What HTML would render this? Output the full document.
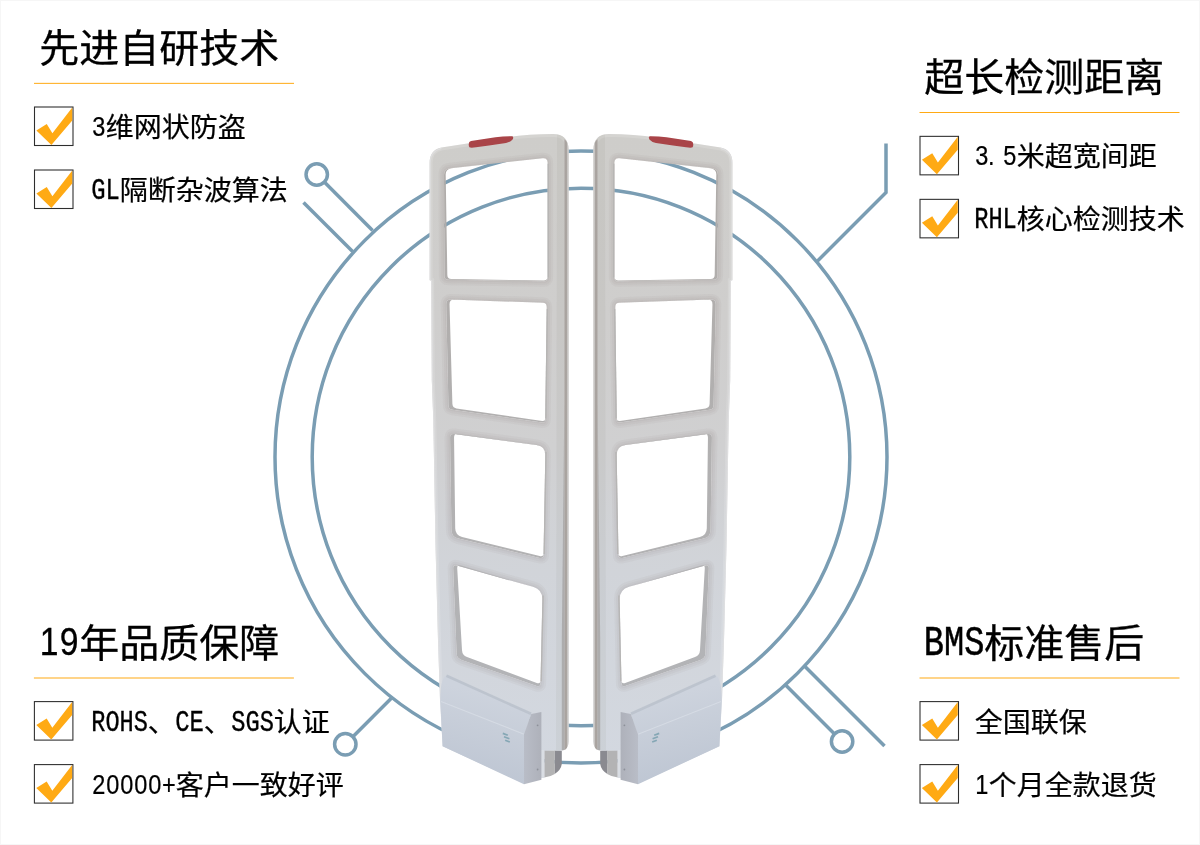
<!DOCTYPE html>
<html lang="zh-CN">
<head>
<meta charset="utf-8">
<title>EAS</title>
<style>
html,body{margin:0;padding:0;background:#fff;}
body{width:1200px;height:845px;overflow:hidden;position:relative;}
svg{display:block;position:absolute;left:0;top:0;will-change:transform;}
.h,.t{fill:#000;stroke:#000;}
.h .c{stroke-width:0.3px;}
.t .c{stroke-width:0.22px;}
.c{font-family:"Liberation Sans","Noto Sans CJK SC",sans-serif;font-weight:400;}
.l{font-family:"Liberation Mono","Liberation Sans",monospace;}
.d{font-family:"Liberation Sans",sans-serif;}
</style>
</head>
<body>
<svg width="1200" height="845" viewBox="0 0 1200 845">

<rect x="0" y="0" width="1200" height="845" fill="#f6f6f6"/>
<rect x="1" y="1" width="1198" height="843" fill="#ffffff"/>
<g fill="none" stroke="#7a9db3" stroke-width="3.5">
<circle cx="581" cy="457" r="306"/>
<circle cx="581" cy="457" r="268.8"/>
<circle cx="316.75" cy="174.5" r="10.7"/>
<path d="M324.32 182.07 L372.6 230.4"/>
<path d="M303.5 202.5 L352.6 251.6"/>
<path d="M886 143.5 L886 192.5 L817 261.5" stroke-linejoin="miter"/>
<circle cx="345.3" cy="744.3" r="10.7"/>
<path d="M352.87 736.73 L391.6 698"/>
<circle cx="842.1" cy="741.5" r="10.7"/>
<path d="M834.53 733.93 L785.6 685"/>
<path d="M805 666.5 L884.5 746"/>
</g>
<defs>
<linearGradient id="gBody" x1="0" y1="134" x2="0" y2="760" gradientUnits="userSpaceOnUse">
<stop offset="0" stop-color="#cecdca"/>
<stop offset="0.3" stop-color="#cfcecd"/>
<stop offset="0.5" stop-color="#d0d0d1"/>
<stop offset="0.7" stop-color="#d1d4d9"/>
<stop offset="1" stop-color="#d3d8e0"/>
</linearGradient>
<linearGradient id="gShade" x1="0" y1="160" x2="0" y2="690" gradientUnits="userSpaceOnUse">
<stop offset="0" stop-color="#b0aca9"/>
<stop offset="1" stop-color="#b3b4b7"/>
</linearGradient>
<linearGradient id="gEdge" x1="564.2" y1="0" x2="568.6" y2="0" gradientUnits="userSpaceOnUse">
<stop offset="0" stop-color="#b9b5b2"/>
<stop offset="0.25" stop-color="#a9a39f"/>
<stop offset="0.6" stop-color="#aaa5a1"/>
<stop offset="0.7" stop-color="#c6c3c1"/>
<stop offset="1" stop-color="#cfcdcb"/>
</linearGradient>
<linearGradient id="gPostHi" x1="550" y1="0" x2="561" y2="0" gradientUnits="userSpaceOnUse">
<stop offset="0" stop-color="#ffffff" stop-opacity="0"/>
<stop offset="0.5" stop-color="#ffffff" stop-opacity="0.16"/>
<stop offset="1" stop-color="#ffffff" stop-opacity="0"/>
</linearGradient>
<linearGradient id="gBox" x1="470" y1="690" x2="450" y2="770" gradientUnits="userSpaceOnUse">
<stop offset="0" stop-color="#cdd3dd"/>
<stop offset="1" stop-color="#bec6d3"/>
</linearGradient>
<linearGradient id="gSide" x1="524" y1="0" x2="541.4" y2="0" gradientUnits="userSpaceOnUse">
<stop offset="0" stop-color="#b9bdc7"/>
<stop offset="1" stop-color="#aeb1ba"/>
</linearGradient>
</defs>
<g id="panelL">
<path fill="url(#gBody)" fill-rule="evenodd" d="M429.6 163 Q429.6 150 441.5 147.6 L506 137.4 Q528 134.2 553 134 Q568.6 134 568.6 150 L568.6 741 Q568.6 750.5 560 750.8 L544 751 L544 778 L540 778 L540 713 L531.2 714.5 L525 734.2 L525 784 L442.6 746.2 L440 700 L438 640 L435.5 545 L433.3 420 L431.8 380 L431.2 280.6 L429.6 280 L429.6 163 Z M444.02 174.80 Q444.00 168.80 449.97 168.17 L542.63 158.33 Q547.60 157.80 547.60 162.80 L547.60 277.40 Q547.60 281.40 543.60 281.34 L448.40 279.86 Q444.40 279.80 444.39 275.80 Z M446.21 304.40 Q446.10 299.40 451.10 299.58 L542.70 302.86 Q546.70 303.00 546.65 307.00 L545.24 419.90 Q545.20 422.90 542.23 422.48 L452.46 409.76 Q448.50 409.20 448.41 405.20 Z M450.06 437.50 Q450.00 433.50 453.97 434.02 L536.48 444.92 Q545.40 446.10 545.25 455.10 L543.57 554.80 Q543.50 558.80 539.61 557.88 L458.31 538.61 Q451.50 537.00 451.40 530.00 Z M453.16 568.50 Q453.00 564.50 456.85 565.58 L532.87 586.81 Q542.50 589.50 542.30 599.50 L540.58 683.30 Q540.50 687.30 536.72 685.99 L461.52 659.94 Q456.80 658.30 456.60 653.30 Z"/>
<clipPath id="cBody"><path clip-rule="evenodd" d="M429.6 163 Q429.6 150 441.5 147.6 L506 137.4 Q528 134.2 553 134 Q568.6 134 568.6 150 L568.6 741 Q568.6 750.5 560 750.8 L544 751 L544 778 L540 778 L540 713 L531.2 714.5 L525 734.2 L525 784 L442.6 746.2 L440 700 L438 640 L435.5 545 L433.3 420 L431.8 380 L431.2 280.6 L429.6 280 L429.6 163 Z M444.02 174.80 Q444.00 168.80 449.97 168.17 L542.63 158.33 Q547.60 157.80 547.60 162.80 L547.60 277.40 Q547.60 281.40 543.60 281.34 L448.40 279.86 Q444.40 279.80 444.39 275.80 Z M446.21 304.40 Q446.10 299.40 451.10 299.58 L542.70 302.86 Q546.70 303.00 546.65 307.00 L545.24 419.90 Q545.20 422.90 542.23 422.48 L452.46 409.76 Q448.50 409.20 448.41 405.20 Z M450.06 437.50 Q450.00 433.50 453.97 434.02 L536.48 444.92 Q545.40 446.10 545.25 455.10 L543.57 554.80 Q543.50 558.80 539.61 557.88 L458.31 538.61 Q451.50 537.00 451.40 530.00 Z M453.16 568.50 Q453.00 564.50 456.85 565.58 L532.87 586.81 Q542.50 589.50 542.30 599.50 L540.58 683.30 Q540.50 687.30 536.72 685.99 L461.52 659.94 Q456.80 658.30 456.60 653.30 Z"/></clipPath>
<g clip-path="url(#cBody)">
<path d="M568.6 741 L568.6 150 Q568.6 134 553 134 Q528 134.2 506 137.4 L441.5 147.6 Q429.6 150 429.6 163 L429.6 280 L431.2 280.6 L431.8 380 L433.3 420 L435.5 545 L438 640 L440 700 L442.6 746.2" fill="none" stroke="#ffffff" stroke-opacity="0.14" stroke-width="6"/>
<path d="M444.02 174.80 Q444.00 168.80 449.97 168.17 L542.63 158.33 Q547.60 157.80 547.60 162.80 L547.60 277.40 Q547.60 281.40 543.60 281.34 L448.40 279.86 Q444.40 279.80 444.39 275.80 Z M446.21 304.40 Q446.10 299.40 451.10 299.58 L542.70 302.86 Q546.70 303.00 546.65 307.00 L545.24 419.90 Q545.20 422.90 542.23 422.48 L452.46 409.76 Q448.50 409.20 448.41 405.20 Z M450.06 437.50 Q450.00 433.50 453.97 434.02 L536.48 444.92 Q545.40 446.10 545.25 455.10 L543.57 554.80 Q543.50 558.80 539.61 557.88 L458.31 538.61 Q451.50 537.00 451.40 530.00 Z M453.16 568.50 Q453.00 564.50 456.85 565.58 L532.87 586.81 Q542.50 589.50 542.30 599.50 L540.58 683.30 Q540.50 687.30 536.72 685.99 L461.52 659.94 Q456.80 658.30 456.60 653.30 Z" fill="none" stroke="#6e6a66" stroke-opacity="0.05" stroke-width="11"/>
<path d="M444.02 174.80 Q444.00 168.80 449.97 168.17 L542.63 158.33 Q547.60 157.80 547.60 162.80 L547.60 277.40 Q547.60 281.40 543.60 281.34 L448.40 279.86 Q444.40 279.80 444.39 275.80 Z M446.21 304.40 Q446.10 299.40 451.10 299.58 L542.70 302.86 Q546.70 303.00 546.65 307.00 L545.24 419.90 Q545.20 422.90 542.23 422.48 L452.46 409.76 Q448.50 409.20 448.41 405.20 Z M450.06 437.50 Q450.00 433.50 453.97 434.02 L536.48 444.92 Q545.40 446.10 545.25 455.10 L543.57 554.80 Q543.50 558.80 539.61 557.88 L458.31 538.61 Q451.50 537.00 451.40 530.00 Z M453.16 568.50 Q453.00 564.50 456.85 565.58 L532.87 586.81 Q542.50 589.50 542.30 599.50 L540.58 683.30 Q540.50 687.30 536.72 685.99 L461.52 659.94 Q456.80 658.30 456.60 653.30 Z" fill="none" stroke="#6e6a66" stroke-opacity="0.05" stroke-width="7"/>
<path d="M444.02 174.80 Q444.00 168.80 449.97 168.17 L542.63 158.33 Q547.60 157.80 547.60 162.80 L547.60 277.40 Q547.60 281.40 543.60 281.34 L448.40 279.86 Q444.40 279.80 444.39 275.80 Z M446.21 304.40 Q446.10 299.40 451.10 299.58 L542.70 302.86 Q546.70 303.00 546.65 307.00 L545.24 419.90 Q545.20 422.90 542.23 422.48 L452.46 409.76 Q448.50 409.20 448.41 405.20 Z M450.06 437.50 Q450.00 433.50 453.97 434.02 L536.48 444.92 Q545.40 446.10 545.25 455.10 L543.57 554.80 Q543.50 558.80 539.61 557.88 L458.31 538.61 Q451.50 537.00 451.40 530.00 Z M453.16 568.50 Q453.00 564.50 456.85 565.58 L532.87 586.81 Q542.50 589.50 542.30 599.50 L540.58 683.30 Q540.50 687.30 536.72 685.99 L461.52 659.94 Q456.80 658.30 456.60 653.30 Z" fill="none" stroke="#6e6a66" stroke-opacity="0.05" stroke-width="3"/>
<path d="M557 130 L564.3 130 L564.3 750 L556 750 Z" fill="#5a5550" opacity="0.055"/>
</g>
<path fill="url(#gShade)" fill-rule="evenodd" d="M444.02 174.80 Q444.00 168.80 449.97 168.17 L542.63 158.33 Q547.60 157.80 547.60 162.80 L547.60 277.40 Q547.60 281.40 543.60 281.34 L448.40 279.86 Q444.40 279.80 444.39 275.80 Z M445.70 174.80 Q445.60 168.80 451.57 168.16 L542.63 158.34 Q547.60 157.80 547.60 162.80 L547.60 276.60 Q547.60 280.60 543.60 280.54 L451.40 279.06 Q447.40 279.00 447.33 275.00 Z"/>
<path fill="url(#gShade)" fill-rule="evenodd" d="M446.21 304.40 Q446.10 299.40 451.10 299.58 L542.70 302.86 Q546.70 303.00 546.65 307.00 L545.24 419.90 Q545.20 422.90 542.23 422.48 L452.46 409.76 Q448.50 409.20 448.41 405.20 Z M449.54 304.40 Q449.40 299.40 454.40 299.58 L542.70 302.85 Q546.70 303.00 546.65 307.00 L545.24 418.50 Q545.20 421.50 542.23 421.06 L456.46 408.38 Q452.50 407.80 452.39 403.80 Z"/>
<path fill="url(#gShade)" fill-rule="evenodd" d="M450.06 437.50 Q450.00 433.50 453.97 434.02 L536.48 444.92 Q545.40 446.10 545.25 455.10 L543.57 554.80 Q543.50 558.80 539.61 557.88 L458.31 538.61 Q451.50 537.00 451.40 530.00 Z M454.05 437.50 Q454.00 433.50 457.96 434.05 L536.48 444.87 Q545.40 446.10 545.25 455.10 L543.57 553.00 Q543.50 557.00 539.62 556.04 L462.10 536.88 Q455.30 535.20 455.21 528.20 Z"/>
<path fill="url(#gShade)" fill-rule="evenodd" d="M453.16 568.50 Q453.00 564.50 456.85 565.58 L532.87 586.81 Q542.50 589.50 542.30 599.50 L540.58 683.30 Q540.50 687.30 536.72 685.99 L461.52 659.94 Q456.80 658.30 456.60 653.30 Z M457.23 568.49 Q457.00 564.50 460.84 565.62 L532.90 586.69 Q542.50 589.50 542.29 599.50 L540.58 680.30 Q540.50 684.30 536.75 682.91 L466.99 657.04 Q462.30 655.30 462.01 650.31 Z"/>
<path d="M430.2 163 Q430.2 151 441.5 148.3 M430.2 163 L430.2 280 L431.8 280.6 L432.4 380 L433.9 420 L436.1 545 L438.6 640 L440.6 700" fill="none" stroke="#e0e0e1" stroke-width="1.2" opacity="0.8"/>
<path d="M564.2 139 Q568.6 142 568.6 150 L568.6 741 Q568.6 747 565.5 749.6 L564.2 750 Z" fill="url(#gEdge)"/>
<path d="M564.4 400 L564.4 750 L561.8 750.4 L561.8 640 Z" fill="#a5a4a4" opacity="0.8"/>
<path d="M548.25 163.80 L548.25 277.60" stroke="#b6b5b4" stroke-width="1.3" fill="none"/>
<path d="M547.35 309.00 L545.85 418.50" stroke="#b6b5b4" stroke-width="1.3" fill="none"/>
<path d="M546.05 452.10 L544.15 554.00" stroke="#b6b5b4" stroke-width="1.3" fill="none"/>
<path d="M543.15 595.50 L541.15 681.30" stroke="#b6b5b4" stroke-width="1.3" fill="none"/>
<path d="M544.2 750.8 L561.8 750.8 L561.8 764 Q561 770 554.6 774 L554.6 750.8 Z" fill="#8a8a90"/>
<path d="M544.2 750.8 L554.8 750.8 L554.8 774 Q550 777 544.2 777.5 Z" fill="#b3b3b4"/>
<rect x="541" y="750" width="3.4" height="28" fill="#d9dde3"/>
<path d="M446 675.5 L531.2 714 L524 734.2 L524 784.3 L442.6 746.2 L440.3 701 Q440 680 446 675.5 Z" fill="url(#gBox)"/>
<path d="M446.5 675.8 L531 713.8" stroke="#bac1cb" stroke-width="2.6" fill="none" opacity="0.85"/>
<path d="M441 701.5 L524 734.2" stroke="#d6dbe4" stroke-width="1.2" fill="none" opacity="0.9"/>
<path d="M531.2 714 L541.4 712 L541.4 779.7 L524 784.3 L524 734.2 Z" fill="url(#gSide)"/>
<circle cx="537.6" cy="725.3" r="0.9" fill="#8d9099"/><circle cx="537.6" cy="769.5" r="0.9" fill="#8d9099"/>
<path d="M502.8 733.4 l5 1.9 M504 736.8 l5.4 2 M505.2 740.2 l4.6 1.8" stroke="#6f99a8" stroke-width="1.7" fill="none" opacity="0.75"/>
<path d="M468.7 144.5 Q468.6 141.6 471 141 L484 139 L495.5 137.2 Q504 136.2 512.4 136.3 Q514 137.4 512.6 139.4 Q510.5 141.9 506 143 L489 145.6 L476 147.3 Q470.4 148 469.4 147.2 Q468.7 146.2 468.7 144.5 Z" fill="#a94448"/>
</g>
<use href="#panelL" transform="translate(1162,0) scale(-1,1)"/>

<text class="h" transform="translate(0,61.86) scale(1,0.955)"><tspan class="c" font-size="40.00" x="39.20 79.20 119.20 159.20 199.20 239.20" y="0">先进自研技术</tspan></text>
<rect x="34.0" y="82.85" width="260" height="1" fill="#ffaa14"/>
<g transform="translate(34.0,106.0)">
<rect x="0.5" y="1" width="38.5" height="38.5" fill="#fff" stroke="#2e2e2e" stroke-width="1.08"/>
<polygon points="2.4,24.4 12.75,17.9 18.4,27.25 38.25,1.5 38.25,14.5 17.4,39" fill="#ffaa14"/>
</g>
<text class="t" transform="translate(0,136.79) scale(1,0.975)"><tspan class="d" font-size="27.48" x="92.24" y="-1.29" textLength="13.11" lengthAdjust="spacingAndGlyphs" stroke-width="0.22">3</tspan><tspan class="c" font-size="28.00" x="105.80 133.80 161.80 189.80 217.80" y="0">维网状防盗</tspan></text>
<g transform="translate(34.0,169.0)">
<rect x="0.5" y="1" width="38.5" height="38.5" fill="#fff" stroke="#2e2e2e" stroke-width="1.08"/>
<polygon points="2.4,24.4 12.75,17.9 18.4,27.25 38.25,1.5 38.25,14.5 17.4,39" fill="#ffaa14"/>
</g>
<text class="t" transform="translate(0,199.79) scale(1,0.975)"><tspan class="l" font-size="30.61" x="91.30" y="-1.29" textLength="28.60" lengthAdjust="spacingAndGlyphs" stroke-width="0.39">GL</tspan><tspan class="c" font-size="28.00" x="119.80 147.80 175.80 203.80 231.80 259.80" y="0">隔断杂波算法</tspan></text>
<text class="h" transform="translate(0,91.36) scale(1,0.955)"><tspan class="c" font-size="40.00" x="924.30 964.30 1004.30 1044.30 1084.30 1124.30" y="0">超长检测距离</tspan></text>
<rect x="919.5" y="112.00" width="260" height="1" fill="#ffaa14"/>
<g transform="translate(919.5,135.35)">
<rect x="0.5" y="1" width="38.5" height="38.5" fill="#fff" stroke="#2e2e2e" stroke-width="1.08"/>
<polygon points="2.4,24.4 12.75,17.9 18.4,27.25 38.25,1.5 38.25,14.5 17.4,39" fill="#ffaa14"/>
</g>
<text class="t" transform="translate(0,166.29) scale(1,0.975)"><tspan class="d" font-size="27.48" x="975.14" y="-1.29" textLength="13.11" lengthAdjust="spacingAndGlyphs" stroke-width="0.22">3</tspan><tspan class="d" font-size="27.48" x="987.90" y="-1.29" textLength="6.56" lengthAdjust="spacingAndGlyphs" stroke-width="0.22">.</tspan><tspan class="d" font-size="27.48" x="1003.14" y="-1.29" textLength="13.11" lengthAdjust="spacingAndGlyphs" stroke-width="0.22">5</tspan><tspan class="c" font-size="28.00" x="1016.70 1044.70 1072.70 1100.70 1128.70" y="0">米超宽间距</tspan></text>
<g transform="translate(919.5,198.35)">
<rect x="0.5" y="1" width="38.5" height="38.5" fill="#fff" stroke="#2e2e2e" stroke-width="1.08"/>
<polygon points="2.4,24.4 12.75,17.9 18.4,27.25 38.25,1.5 38.25,14.5 17.4,39" fill="#ffaa14"/>
</g>
<text class="t" transform="translate(0,229.29) scale(1,0.975)"><tspan class="l" font-size="30.61" x="974.20" y="-1.29" textLength="42.60" lengthAdjust="spacingAndGlyphs" stroke-width="0.39">RHL</tspan><tspan class="c" font-size="28.00" x="1016.70 1044.70 1072.70 1100.70 1128.70 1156.70" y="0">核心检测技术</tspan></text>
<text class="h" transform="translate(0,656.86) scale(1,0.955)"><tspan class="d" font-size="40.08" x="39.84" y="-1.88" textLength="18.73" lengthAdjust="spacingAndGlyphs" stroke-width="0.32">1</tspan><tspan class="d" font-size="40.08" x="59.84" y="-1.88" textLength="18.73" lengthAdjust="spacingAndGlyphs" stroke-width="0.32">9</tspan><tspan class="c" font-size="40.00" x="79.20 119.20 159.20 199.20 239.20" y="0">年品质保障</tspan></text>
<rect x="33.9" y="677.50" width="260" height="1" fill="#ffaa14"/>
<g transform="translate(33.9,700.6)">
<rect x="0.5" y="1" width="38.5" height="38.5" fill="#fff" stroke="#2e2e2e" stroke-width="1.08"/>
<polygon points="2.4,24.4 12.75,17.9 18.4,27.25 38.25,1.5 38.25,14.5 17.4,39" fill="#ffaa14"/>
</g>
<text class="t" transform="translate(0,731.79) scale(1,0.975)"><tspan class="l" font-size="30.61" x="91.30" y="-1.29" textLength="56.60" lengthAdjust="spacingAndGlyphs" stroke-width="0.39">ROHS</tspan><tspan class="c" font-size="28.00" x="147.80" y="0">、</tspan><tspan class="l" font-size="30.61" x="175.30" y="-1.29" textLength="28.60" lengthAdjust="spacingAndGlyphs" stroke-width="0.39">CE</tspan><tspan class="c" font-size="28.00" x="203.80" y="0">、</tspan><tspan class="l" font-size="30.61" x="231.30" y="-1.29" textLength="42.60" lengthAdjust="spacingAndGlyphs" stroke-width="0.39">SGS</tspan><tspan class="c" font-size="28.00" x="273.80 301.80" y="0">认证</tspan></text>
<g transform="translate(33.9,763.6)">
<rect x="0.5" y="1" width="38.5" height="38.5" fill="#fff" stroke="#2e2e2e" stroke-width="1.08"/>
<polygon points="2.4,24.4 12.75,17.9 18.4,27.25 38.25,1.5 38.25,14.5 17.4,39" fill="#ffaa14"/>
</g>
<text class="t" transform="translate(0,794.79) scale(1,0.975)"><tspan class="d" font-size="27.48" x="92.24" y="-1.29" textLength="13.11" lengthAdjust="spacingAndGlyphs" stroke-width="0.22">2</tspan><tspan class="d" font-size="27.48" x="106.24" y="-1.29" textLength="13.11" lengthAdjust="spacingAndGlyphs" stroke-width="0.22">0</tspan><tspan class="d" font-size="27.48" x="120.24" y="-1.29" textLength="13.11" lengthAdjust="spacingAndGlyphs" stroke-width="0.22">0</tspan><tspan class="d" font-size="27.48" x="134.24" y="-1.29" textLength="13.11" lengthAdjust="spacingAndGlyphs" stroke-width="0.22">0</tspan><tspan class="d" font-size="27.48" x="148.24" y="-1.29" textLength="13.11" lengthAdjust="spacingAndGlyphs" stroke-width="0.22">0</tspan><tspan class="d" font-size="27.48" x="161.91" y="-1.29" textLength="13.77" lengthAdjust="spacingAndGlyphs" stroke-width="0.22">+</tspan><tspan class="c" font-size="28.00" x="175.80 203.80 231.80 259.80 287.80 315.80" y="0">客户一致好评</tspan></text>
<text class="h" transform="translate(0,656.86) scale(1,0.955)"><tspan class="l" font-size="44.65" x="923.80" y="-1.88" textLength="60.60" lengthAdjust="spacingAndGlyphs" stroke-width="0.56">BMS</tspan><tspan class="c" font-size="40.00" x="984.30 1024.30 1064.30 1104.30" y="0">标准售后</tspan></text>
<rect x="919.5" y="677.50" width="260" height="1" fill="#ffaa14"/>
<g transform="translate(919.5,700.6)">
<rect x="0.5" y="1" width="38.5" height="38.5" fill="#fff" stroke="#2e2e2e" stroke-width="1.08"/>
<polygon points="2.4,24.4 12.75,17.9 18.4,27.25 38.25,1.5 38.25,14.5 17.4,39" fill="#ffaa14"/>
</g>
<text class="t" transform="translate(0,731.79) scale(1,0.975)"><tspan class="c" font-size="28.00" x="974.70 1002.70 1030.70 1058.70" y="0">全国联保</tspan></text>
<g transform="translate(919.5,763.6)">
<rect x="0.5" y="1" width="38.5" height="38.5" fill="#fff" stroke="#2e2e2e" stroke-width="1.08"/>
<polygon points="2.4,24.4 12.75,17.9 18.4,27.25 38.25,1.5 38.25,14.5 17.4,39" fill="#ffaa14"/>
</g>
<text class="t" transform="translate(0,794.79) scale(1,0.975)"><tspan class="d" font-size="27.48" x="975.14" y="-1.29" textLength="13.11" lengthAdjust="spacingAndGlyphs" stroke-width="0.22">1</tspan><tspan class="c" font-size="28.00" x="988.70 1016.70 1044.70 1072.70 1100.70 1128.70" y="0">个月全款退货</tspan></text>
</svg>
</body>
</html>
